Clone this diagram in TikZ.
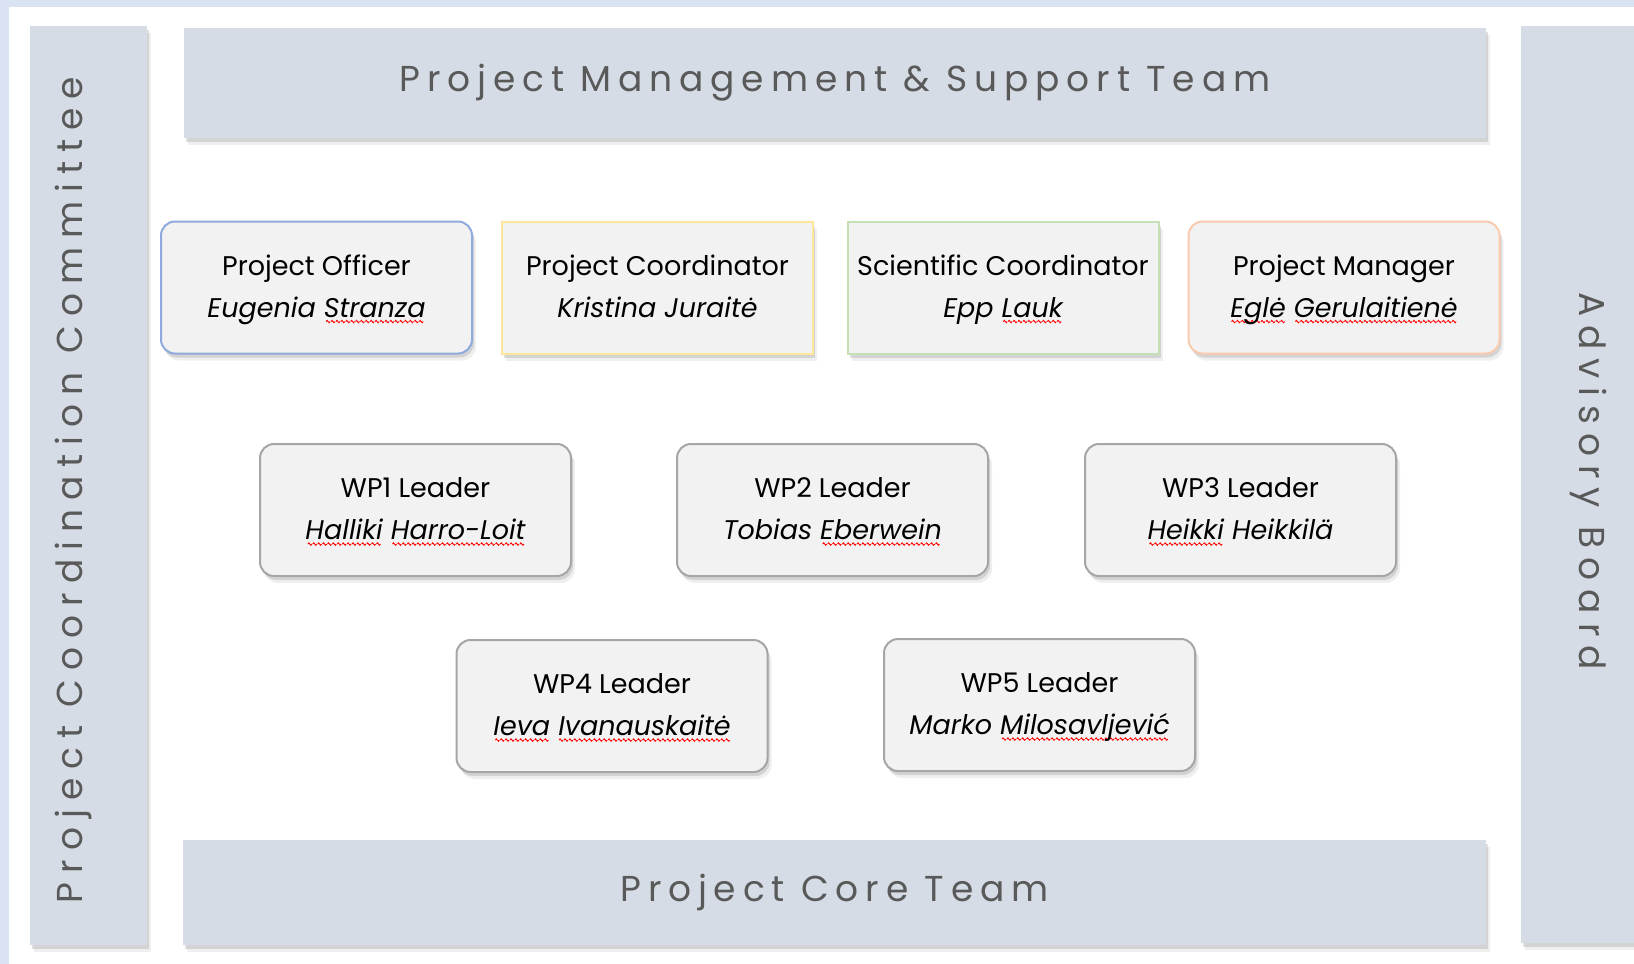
\documentclass[tikz,border=0pt]{standalone}
\usepackage{fontspec}
\setmainfont{Poppins}
\newfontfamily\spacedfont[LetterSpace=19]{Poppins}
\newfontfamily\sidefont[LetterSpace=25]{Poppins}
\usetikzlibrary{shadows}
\newsavebox\wavebox
\newcommand\spell[1]{\setbox0\hbox{#1}%
  \rlap{\lower6pt\hbox to \wd0{\cleaders\copy\wavebox\hfil}}\box0\relax}
\newcommand\post[1]{\rule{0pt}{30pt}#1}
\newcommand\who[1]{\textit{#1}\strut}
\definecolor{frameblue}{HTML}{DAE3F3}
\definecolor{panelblue}{HTML}{D6DCE5}
\definecolor{boxfill}{HTML}{F2F2F2}
\definecolor{titlegray}{HTML}{595959}
\definecolor{blueline}{HTML}{8FAADC}
\definecolor{yellowline}{HTML}{FFE699}
\definecolor{greenline}{HTML}{C5E0B4}
\definecolor{peachline}{HTML}{F8CBAD}
\definecolor{grayline}{HTML}{A6A6A6}

\begin{document}
\sbox\wavebox{\pgfpicture\pgfsetcolor{red}\pgfsetlinewidth{0.9pt}%
  \pgfpathmoveto{\pgfpointorigin}%
  \pgfpathsine{\pgfpoint{1pt}{1.2pt}}\pgfpathcosine{\pgfpoint{1pt}{-1.2pt}}%
  \pgfpathsine{\pgfpoint{1pt}{-1.2pt}}\pgfpathcosine{\pgfpoint{1pt}{1.2pt}}%
  \pgfusepath{stroke}\endpgfpicture}
\begin{tikzpicture}[x=1pt,y=-1pt,
    shade/.style={drop shadow={shadow xshift=2pt,shadow yshift=-4pt,opacity=.25},
        drop shadow={shadow xshift=4pt,shadow yshift=-7pt,opacity=.12}},
    panel/.style={shade,fill=panelblue,inner sep=0pt},
    title/.style={font=\spacedfont\fontsize{36}{36}\selectfont,text=titlegray},
    sidetitle/.style={title,font=\sidefont\fontsize{36}{36}\selectfont},
    role/.style={shade,rectangle,fill=boxfill,line width=2pt,
        minimum width=311pt,minimum height=132pt,align=center,
        font=\fontsize{27}{42}\selectfont},
    leader/.style={role,draw=grayline,rounded corners=14pt}]
  \useasboundingbox (0,0) rectangle (1634,964);
  \fill[frameblue] (0,0) rectangle (1634,964);
  \fill[white] (9,7) rectangle (1634,964);
  % side and top/bottom panels
  \node[panel,minimum width=117pt,minimum height=919pt] (committee) at (88.5,485.5) {};
  \node[sidetitle,rotate=90] (committeetext) at (73,490) {Project Coordination Committee};
  \node[panel,minimum width=120pt,minimum height=917pt] (advisory) at (1581,484.5) {};
  \node[sidetitle,rotate=-90] (advisorytext) at (1589,481) {Advisory Board};
  \node[panel,title,minimum width=1302pt,minimum height=110pt] (support) at (835,83)
    {Project Management \& Support Team};
  \node[panel,title,minimum width=1303pt,minimum height=105pt] (core) at (834.5,892.5)
    {Project Core Team};
  % management row
  \node[role,draw=blueline,rounded corners=14pt] (officer) at (316.5,287.5)
    {\post{Project Officer}\\\who{Eugenia \spell{Stranza}}};
  \node[role,draw=yellowline] (coordinator) at (657.5,287.5)
    {\post{Project Coordinator}\\\who{Kristina Juraitė}};
  \node[role,draw=greenline] (scientific) at (1003,287.5)
    {\post{Scientific Coordinator}\\\who{Epp \spell{Lauk}}};
  \node[role,draw=peachline,rounded corners=14pt] (manager) at (1344,287.5)
    {\post{Project Manager}\\\who{\spell{Eglė} \spell{Gerulaitienė}}};
  % work packages
  \node[leader] (wpone) at (415.5,510) {\post{WP1 Leader}\\\who{\spell{Halliki} \spell{Harro-Loit}}};
  \node[leader] (wptwo) at (832.5,510) {\post{WP2 Leader}\\\who{Tobias \spell{Eberwein}}};
  \node[leader] (wpthree) at (1240.5,510) {\post{WP3 Leader}\\\who{\spell{Heikki} Heikkilä}};
  \node[leader] (wpfour) at (612,706) {\post{WP4 Leader}\\\who{\spell{Ieva} \spell{Ivanauskaitė}}};
  \node[leader] (wpfive) at (1039.5,705) {\post{WP5 Leader}\\\who{Marko \spell{Milosavljević}}};
\end{tikzpicture}
\end{document}
